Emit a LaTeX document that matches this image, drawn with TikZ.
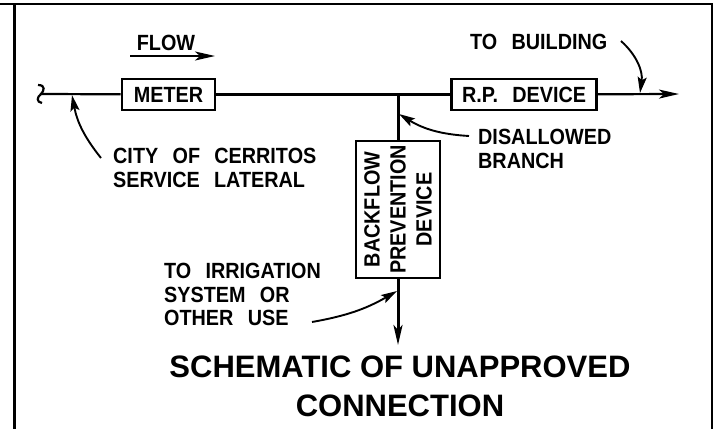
\documentclass[tikz,border=0pt]{standalone}
\usepackage{fontspec}
\setmainfont{Liberation Sans}
\newfontfamily\cadfont[WordSpace=2.6,FakeStretch=0.9]{Liberation Sans}
\usetikzlibrary{arrows.meta,positioning}
\tikzset{
  device/.style={rectangle,draw=black,line width=2.6pt,inner sep=0pt,align=center,
    font=\cadfont\bfseries\fontsize{22}{26}\selectfont},
  callout/.style={inner sep=0pt,align=left,text=black,
    font=\cadfont\bfseries\fontsize{22}{23.5}\selectfont},
  pipe/.style={line width=2.2pt,#1},
  pipe/.default={black},
  flowarrow/.style={-{Stealth[length=20pt,width=9pt,inset=5pt]},line width=2.2pt},
  leader/.style={-{Stealth[length=16pt,width=9pt,inset=3pt]},line width=1.9pt},
}
\begin{document}
\begin{tikzpicture}[x=1pt,y=-1pt]
  \useasboundingbox (0,0) rectangle (716,429);
  % sheet border
  \draw[line width=3pt] (14,429) -- (14,5);
  \draw[line width=2.4pt] (0,4) -- (712,4) -- (712,429);
  \node[device,minimum width=93pt,minimum height=31pt] (meter) at (168.5,94.5) {METER};
  \node[device,right=234pt of meter,minimum width=145pt,minimum height=31pt] (rpdevice) {R.P.\ DEVICE};
  \node[device,rotate=90,minimum width=137pt,minimum height=84pt] (backflow) at (398,209.5) {BACKFLOW\\PREVENTION\\DEVICE};
  \node[callout,anchor=north] (flowlabel) at (166,35) {FLOW};
  \node[callout,anchor=north west] (lateral) at (113,148) {CITY OF CERRITOS\\SERVICE LATERAL};
  \node[callout,anchor=north west] (building) at (470,34) {TO BUILDING};
  \node[callout,anchor=north west] (branchlabel) at (478,129) {DISALLOWED\\BRANCH};
  \node[callout,anchor=north west] (irrigation) at (164,263) {TO IRRIGATION\\SYSTEM OR\\OTHER USE};
  \node[font=\bfseries\fontsize{31}{39}\selectfont,align=center,inner sep=0pt,anchor=north] (title) at (400,356) {SCHEMATIC OF UNAPPROVED\\CONNECTION};
  \coordinate (pipestart) at (44,94);
  \coordinate (pipeend) at (679,94);
  \coordinate (flowstart) at (130,56);
  \coordinate (flowend) at (215,56);
  \coordinate (branchtee) at (backflow.east |- meter);
  \coordinate (irrigend) at (backflow.west |- 0,345);
  % main line
  \draw[pipe] (38,85) .. controls (46,85) and (44,91) .. (41,94) .. controls (37,97) and (36,102) .. (42,103);
  \draw[pipe] (41,94) -- (pipestart) -- (meter);
  \draw[pipe] (meter) -- (rpdevice);
  \draw[flowarrow] (rpdevice) -- (pipeend);
  \draw[pipe,line width=3pt] (branchtee) -- (backflow.east);
  \draw[flowarrow,line width=3pt] (backflow.west) -- (irrigend);
  \draw[flowarrow] (flowstart) -- (flowend);
  % leaders
  \coordinate (lateraltip) at (72,95);
  \coordinate (lateralfrom) at (101,158);
  \coordinate (buildingtip) at (640,93);
  \coordinate (buildingfrom) at (621,41);
  \coordinate (branchtip) at (399,114);
  \coordinate (branchfrom) at (469,136);
  \coordinate (irrigtip) at (397,291);
  \coordinate (irrigfrom) at (312,322);
  \draw[leader] (lateralfrom) to[bend left=14] (lateraltip);
  \draw[leader] (buildingfrom) to[bend left=28] (buildingtip);
  \draw[leader] (branchfrom) to[bend left=14] (branchtip);
  \draw[leader] (irrigfrom) to[bend right=10] (irrigtip);
\end{tikzpicture}
\end{document}
